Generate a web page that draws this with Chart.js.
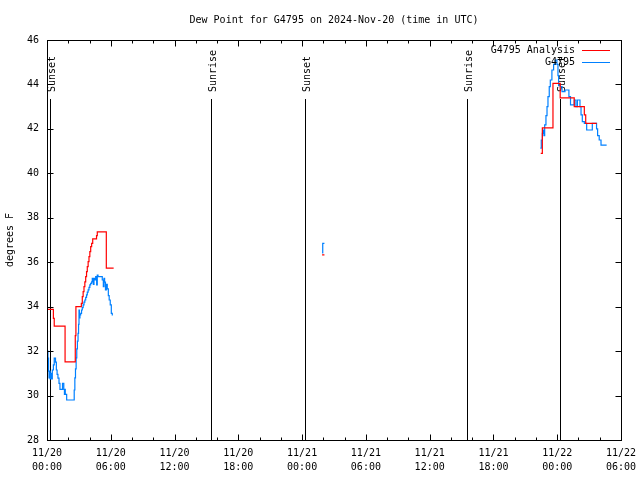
<!DOCTYPE html>
<html><head><meta charset="utf-8">
<script src="https://cdn.jsdelivr.net/npm/chart.js@4/dist/chart.umd.min.js"></script>
<style>html,body{margin:0;padding:0;background:#fff}#wrap{width:640px;height:480px}</style>
</head><body><div id="wrap"><canvas id="c" width="640" height="480"></canvas></div>
<script>
const chartTitle = 'Dew Point for G4795 on 2024-Nov-20 (time in UTC)';
const yTitle = 'degrees F';
const xTickHours = [0, 6, 12, 18, 24, 30, 36, 42, 48, 54];
const xTickLabels = [['11/20','00:00'],['11/20','06:00'],['11/20','12:00'],['11/20','18:00'],['11/21','00:00'],['11/21','06:00'],['11/21','12:00'],['11/21','18:00'],['11/22','00:00'],['11/22','06:00']];
const xMinorStep = 2;
const yTicks = [28, 30, 32, 34, 36, 38, 40, 42, 44, 46];
const eventHours = [0.25, 15.41, 24.26, 39.49, 48.23];
const eventLabels = ['Sunset', 'Sunrise', 'Sunset', 'Sunrise', 'Sunset'];

const seriesNames = ['G4795 Analysis', 'G4795'];
const seriesColors = ['#ff0000', '#0080ff'];

const analysisHours = [0, 0.6, 0.68, 1.7, 2.66, 2.72, 3.23, 3.32, 3.40, 3.48, 3.56, 3.64, 3.72, 3.79, 3.87, 3.95, 4.03, 4.11, 4.2, 4.3, 4.66, 4.73, 5.58, 6.27,
  15, 25.88, 26.1,
  30, 46.45, 46.6, 47.6, 48.28, 49.6, 50.55, 50.68, 51.72];
const analysisValues = [33.88, 33.47, 33.12, 31.52, 32.7, 34.0, 34.15, 34.45, 34.68, 34.9, 35.12, 35.35, 35.58, 35.8, 36.03, 36.25, 36.48, 36.7, 36.85, 37.05, 37.2, 37.37, 35.73, 35.73,
  null, 36.33, 36.33,
  null, 40.9, 42.05, 44.05, 43.4, 43.0, 42.63, 42.25, 42.25];

const obsHours = [0, 0.03, 0.09, 0.15, 0.19, 0.25, 0.3, 0.38, 0.45, 0.5, 0.6, 0.68, 0.8, 0.88, 0.95, 1.03, 1.13, 1.22, 1.46, 1.58, 1.64, 1.68, 1.72, 1.85,
  2.56, 2.62, 2.68, 2.74, 2.8, 2.86, 2.92, 2.97, 3.01, 3.05, 3.1, 3.17, 3.25, 3.32, 3.4, 3.48, 3.56, 3.64, 3.72, 3.79, 3.87, 3.95, 4.03, 4.11, 4.2,
  4.26, 4.36, 4.42, 4.5, 4.58, 4.67, 4.73, 4.8, 5.2, 5.3, 5.36, 5.42, 5.5, 5.58, 5.67, 5.77, 5.85, 5.95, 6.05, 6.14, 6.2,
  15, 25.88, 25.94, 26.1,
  30, 46.41, 46.5, 46.6, 46.66, 46.75, 46.82, 46.94, 47.04, 47.13, 47.25, 47.35, 47.5, 47.66, 47.82, 47.97, 48.07, 48.13, 48.29, 48.45, 48.73,
  49.1, 49.25, 49.6, 49.76, 49.9, 50.14, 50.24, 50.36, 50.55, 50.77, 51.3, 51.7, 51.8, 51.95, 52.12, 52.65];
const obsValues = [32.35, 32.0, 31.68, 31.1, 30.8, 31.1, 30.75, 31.0, 30.75, 31.15, 31.38, 31.68, 31.5, 31.15, 30.95, 30.78, 30.55, 30.28, 30.55, 30.28, 30.05, 30.28, 30.05, 29.8,
  30.25, 30.8, 31.2, 31.7, 32.1, 32.45, 32.8, 33.2, 33.85, 33.5, 33.63, 33.7, 33.85, 33.96, 34.08, 34.2, 34.3, 34.42, 34.53, 34.65, 34.76, 34.87, 34.98, 35.05, 35.12,
  35.27, 35.0, 35.27, 35.2, 35.35, 34.98, 35.42, 35.35, 35.2, 34.9, 35.27, 35.1, 34.75, 35.0, 34.8, 34.5, 34.3, 34.08, 33.7, 33.63, 33.63,
  null, 36.42, 36.85, 36.85,
  null, 41.13, 41.5, 41.8, 41.95, 41.7, 42.18, 42.6, 43.0, 43.45, 43.9, 44.2, 44.65, 44.9, 45.1, 44.9, 44.4, 43.95, 43.9, 43.68, 43.75,
  43.45, 43.08, 43.3, 43.0, 43.3, 43.0, 42.63, 42.33, 42.25, 41.95, 42.25, 42.0, 41.7, 41.5, 41.27, 41.27];

const FONT = "'DejaVu Sans Mono', monospace";
Chart.defaults.font.family = FONT;
Chart.defaults.font.size = 10;
Chart.defaults.color = '#000';

function pts(h, v) { return h.map((x, i) => ({x: x, y: v[i]})); }

const decor = {
  id: 'decor',
  beforeDatasetsDraw(chart) {
    const {ctx, chartArea: a, scales: {x}} = chart;
    ctx.save();
    ctx.strokeStyle = '#000';
    ctx.lineWidth = 1;
    ctx.fillStyle = '#000';
    ctx.font = '10px ' + FONT;
    eventHours.forEach((h, i) => {
      const px = Math.round(x.getPixelForValue(h)) + 0.5;
      ctx.beginPath(); ctx.moveTo(px, 99); ctx.lineTo(px, a.bottom); ctx.stroke();
      ctx.save();
      ctx.translate(px + 1.5, 92);
      ctx.rotate(-Math.PI / 2);
      ctx.textAlign = 'left'; ctx.textBaseline = 'middle';
      ctx.fillText(eventLabels[i], 0, 0);
      ctx.restore();
    });
    ctx.restore();
  },
  afterDraw(chart) {
    const {ctx, chartArea: a, scales: {x, y}} = chart;
    ctx.save();
    ctx.strokeStyle = '#000'; ctx.lineWidth = 1;
    const L = Math.round(a.left) + 0.5, R = Math.round(a.right) + 0.5, T = Math.round(a.top) + 0.5, B = Math.round(a.bottom) + 0.5;
    ctx.strokeRect(L, T, R - L, B - T);
    ctx.beginPath();
    for (let h = x.min; h <= x.max + 1e-9; h += xMinorStep) {
      const px = Math.round(x.getPixelForValue(h)) + 0.5;
      const len = xTickHours.includes(h) ? 6 : 3;
      ctx.moveTo(px, B); ctx.lineTo(px, B - len);
      ctx.moveTo(px, T); ctx.lineTo(px, T + len);
    }
    yTicks.forEach(v => {
      const py = Math.round(y.getPixelForValue(v)) + 0.5;
      ctx.moveTo(L, py); ctx.lineTo(L + 6, py);
      ctx.moveTo(R, py); ctx.lineTo(R - 6, py);
    });
    ctx.stroke();
    // title
    ctx.fillStyle = '#000';
    ctx.font = '10px ' + FONT;
    ctx.textAlign = 'center'; ctx.textBaseline = 'middle';
    ctx.fillText(chartTitle, (a.left + a.right) / 2, 20);
    // legend
    ctx.textAlign = 'right';
    const ly = [50.5, 62.5];
    chart.data.datasets.forEach((ds, i) => {
      ctx.fillStyle = '#000';
      ctx.fillText(ds.label, 575, ly[i]);
      ctx.strokeStyle = ds.borderColor;
      ctx.beginPath(); ctx.moveTo(582, ly[i]); ctx.lineTo(610, ly[i]); ctx.stroke();
    });
    ctx.restore();
  }
};

new Chart(document.getElementById('c'), {
  type: 'line',
  data: {
    datasets: [
      {label: seriesNames[0], data: pts(analysisHours, analysisValues), borderColor: seriesColors[0], borderWidth: 1.2, pointRadius: 0, stepped: 'before', spanGaps: false, fill: false},
      {label: seriesNames[1], data: pts(obsHours, obsValues), borderColor: seriesColors[1], borderWidth: 1.2, pointRadius: 0, stepped: 'before', spanGaps: false, fill: false}
    ]
  },
  options: {
    responsive: false, animation: false, devicePixelRatio: 1,
    layout: {padding: {top: 40, right: 19, left: 0, bottom: 0}},
    plugins: {legend: {display: false}, title: {display: false}, tooltip: {enabled: false}},
    scales: {
      x: {
        type: 'linear', min: 0, max: 54,
        grid: {display: false, drawTicks: false}, border: {display: false},
        afterBuildTicks: s => { s.ticks = xTickHours.map(v => ({value: v})); },
        ticks: {padding: 6, maxRotation: 0, autoSkip: false, font: {size: 10, lineHeight: 1.4},
          callback: v => xTickLabels[xTickHours.indexOf(v)]},
        afterFit: s => { s.height = 40; s.paddingLeft = 0; s.paddingRight = 0; }
      },
      y: {
        min: 28, max: 46,
        grid: {display: false, drawTicks: false}, border: {display: false},
        afterBuildTicks: s => { s.ticks = yTicks.map(v => ({value: v})); },
        ticks: {padding: 8, font: {size: 10}},
        title: {display: true, text: yTitle, font: {size: 10}, padding: {top: 4, bottom: 4}},
        afterFit: s => { s.width = 47; s.paddingTop = 0; s.paddingBottom = 0; }
      }
    }
  },
  plugins: [decor]
});
</script></body></html>
